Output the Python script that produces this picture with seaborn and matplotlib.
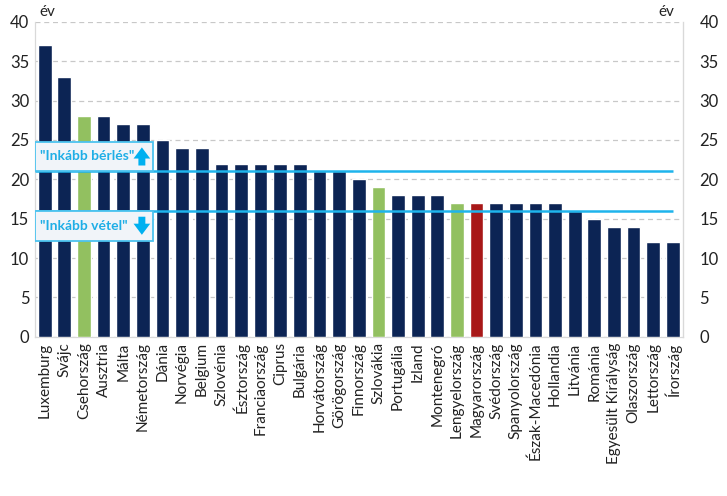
import matplotlib
matplotlib.use("Agg")
import matplotlib.pyplot as plt
from matplotlib.patches import Rectangle
import seaborn as sns
import pandas as pd

countries = ["Luxemburg", "Svájc", "Csehország", "Ausztria", "Málta", "Németország",
             "Dánia", "Norvégia", "Belgium", "Szlovénia", "Észtország", "Franciaország",
             "Ciprus", "Bulgária", "Horvátország", "Görögország", "Finnország", "Szlovákia",
             "Portugália", "Izland", "Montenegró", "Lengyelország", "Magyarország",
             "Svédország", "Spanyolország", "Észak-Macedónia", "Hollandia", "Litvánia",
             "Románia", "Egyesült Királyság", "Olaszország", "Lettország", "Írország"]
years = [37, 33, 28, 28, 27, 27, 25, 24, 24, 22, 22, 22, 22, 22, 21, 21, 20, 19,
         18, 18, 18, 17, 17, 17, 17, 17, 17, 16, 15, 14, 14, 12, 12]
highlight_green = ["Csehország", "Szlovákia", "Lengyelország"]
highlight_red = ["Magyarország"]
rent_threshold = 21
buy_threshold = 16

NAVY = "#002060"
GREEN = "#92D050"
RED = "#C00000"
CYAN = "#1EB4EC"

sns.set_style("white")
plt.rcParams["font.family"] = ["Lato", "DejaVu Sans"]

df = pd.DataFrame({"country": countries, "years": years})
palette = {c: (GREEN if c in highlight_green else RED if c in highlight_red else NAVY)
           for c in countries}

fig = plt.figure(figsize=(7.27, 4.96), dpi=100)
ax = fig.add_axes([0.048, 0.321, 0.891, 0.635])
sns.barplot(data=df, x="country", y="years", hue="country", palette=palette,
            width=0.7, legend=False, ax=ax, zorder=3)

n = len(countries)
ax.set_xlim(-0.5, n - 0.5)
ax.set_ylim(0, 40)
ax.set_yticks(range(0, 41, 5))
ax.yaxis.grid(True, color="#c8c8c8", linestyle=(0, (4, 3)), linewidth=0.9, zorder=0)
ax.set_xlabel("")
ax.set_ylabel("")
ax.tick_params(axis="y", length=0, labelsize=12, colors="#222222", pad=4)
ax.tick_params(axis="x", length=0, labelsize=11, labelrotation=90, colors="#222222", pad=4)
ax.set_xticks([i - 0.5 for i in range(n + 1)], minor=True)
ax.tick_params(axis="x", which="minor", length=5, color="#d0d0d0", width=0.8)

ax.spines["top"].set_visible(False)
for s in ["left", "right", "bottom"]:
    ax.spines[s].set_color("#d9d9d9")
    ax.spines[s].set_linewidth(0.9)

ax2 = ax.twinx()
ax2.set_ylim(0, 40)
ax2.set_yticks(range(0, 41, 5))
ax2.tick_params(axis="y", length=0, labelsize=12, colors="#222222", pad=12)
for s in ["top", "left", "bottom"]:
    ax2.spines[s].set_visible(False)
ax2.spines["right"].set_color("#d9d9d9")

ax.hlines([rent_threshold, buy_threshold], -0.5, n - 1, color=CYAN, linewidth=1.8, zorder=4)

# annotation boxes
box_w = 6.0
box_h = 3.8
for y0 in [rent_threshold, buy_threshold - box_h]:
    ax.add_patch(Rectangle((-0.5, y0), box_w, box_h, facecolor="#f1f4f9",
                           edgecolor="#4cc3ef", linewidth=1.3, zorder=5))
ax.text(-0.25, rent_threshold + box_h / 2, '"Inkább bérlés"', color="#1FAEE6", fontsize=10,
        fontweight="bold", va="center", ha="left", zorder=6)
ax.text(-0.25, buy_threshold - box_h / 2, '"Inkább vétel"', color="#1FAEE6", fontsize=10,
        fontweight="bold", va="center", ha="left", zorder=6)
arrow = dict(arrowstyle="simple,head_width=1.2,head_length=0.8,tail_width=0.5",
             color="#00B0F0", lw=0)
ax.annotate("", xy=(4.95, rent_threshold + 3.4), xytext=(4.95, rent_threshold + 0.4),
            arrowprops=arrow, zorder=6)
ax.annotate("", xy=(4.95, buy_threshold - 3.4), xytext=(4.95, buy_threshold - 0.4),
            arrowprops=arrow, zorder=6)

fig.text(0.054, 0.962, "év", fontsize=11, color="#222222", ha="left", va="bottom")
fig.text(0.928, 0.962, "év", fontsize=11, color="#222222", ha="right", va="bottom")

fig.savefig("out.png", dpi=100)
